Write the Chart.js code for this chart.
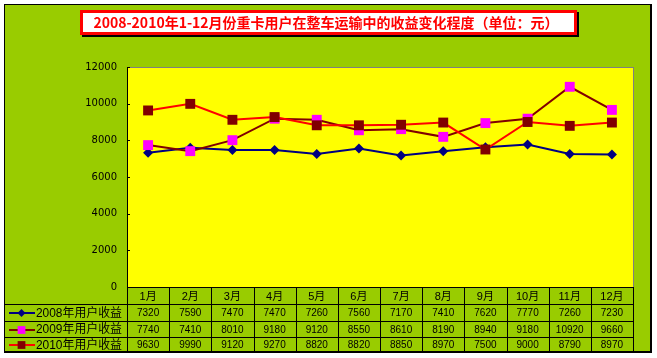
<!DOCTYPE html>
<html><head><meta charset="utf-8">
<script src="https://cdn.jsdelivr.net/npm/chart.js@4/dist/chart.umd.min.js"></script>
<style>html,body{margin:0;padding:0;background:#fff;}#wrap{width:657px;height:358px;position:relative;}</style>
</head><body><div id="wrap"><canvas id="c" width="657" height="358"></canvas></div>
<script>
const chartTitle = '2008-2010年1-12月份重卡用户在整车运输中的收益变化程度（单位：元）';
const months = ['1月','2月','3月','4月','5月','6月','7月','8月','9月','10月','11月','12月'];
const seriesNames = ['2008年用户收益','2009年用户收益','2010年用户收益'];
const income2008 = [7320,7590,7470,7470,7260,7560,7170,7410,7620,7770,7260,7230];
const income2009 = [7740,7410,8010,9180,9120,8550,8610,8190,8940,9180,10920,9660];
const income2010 = [9630,9990,9120,9270,8820,8820,8850,8970,7500,9000,8790,8970];
const yMin = 0, yMax = 12000, yStep = 2000;

const GREEN = '#99CC00', YELLOW = '#FFFF00';
const lineColors = ['#000080', '#800000', '#FF0000'];
const markerColors = ['#000080', '#FF00FF', '#800000'];
const markerStyles = ['rectRot', 'rect', 'rect'];
const markerRadius = [5, 7, 7];
const seriesData = [income2008, income2009, income2010];
const rowEdges = [287, 304, 321, 337, 352];

function drawMarker(ctx, style, r, x, y, color) {
  ctx.save();
  ctx.fillStyle = color;
  ctx.beginPath();
  if (style === 'rect') {
    const s = Math.SQRT1_2 * r;
    ctx.rect(x - s, y - s, 2 * s, 2 * s);
  } else {
    ctx.moveTo(x - r, y); ctx.lineTo(x, y - r); ctx.lineTo(x + r, y); ctx.lineTo(x, y + r); ctx.closePath();
  }
  ctx.fill();
  ctx.restore();
}

const framePlugin = {
  id: 'frame',
  beforeDraw(chart) {
    const ctx = chart.ctx, a = chart.chartArea;
    ctx.save();
    ctx.fillStyle = '#fff';
    ctx.fillRect(0, 0, chart.width, chart.height);
    ctx.fillStyle = GREEN;
    ctx.fillRect(4, 4, 648, 349);
    ctx.fillStyle = '#000';
    ctx.fillRect(4, 4, 648, 1);
    ctx.fillRect(4, 4, 1, 349);
    ctx.fillRect(650, 4, 2, 349);
    ctx.fillRect(4, 351, 648, 2);
    // title box
    ctx.fillStyle = '#000';
    ctx.fillRect(82, 12, 497, 25);
    ctx.fillStyle = '#FF0000';
    ctx.fillRect(80, 10, 497, 25);
    ctx.fillStyle = '#fff';
    ctx.fillRect(83, 13, 491, 19);
    ctx.fillStyle = '#FF0000';
    ctx.font = "bold 14px 'Noto Sans CJK SC', sans-serif";
    ctx.textAlign = 'center';
    ctx.textBaseline = 'middle';
    ctx.fillText(chartTitle, 326, 23, 478);
    // plot area
    ctx.fillStyle = YELLOW;
    ctx.fillRect(a.left, a.top, a.right - a.left, a.bottom - a.top);
    ctx.restore();
  },
  afterDraw(chart) {
    const ctx = chart.ctx, a = chart.chartArea;
    const xs = chart.scales.x, ys = chart.scales.y;
    ctx.save();
    // plot border top/right
    ctx.fillStyle = '#808080';
    ctx.fillRect(a.left, a.top, a.right - a.left + 1, 1);
    ctx.fillRect(a.right, a.top, 1, a.bottom - a.top);
    // inner y ticks
    ctx.fillStyle = '#000';
    for (let v = yMin; v <= yMax; v += yStep) {
      const py = Math.round(ys.getPixelForValue(v));
      ctx.fillRect(a.left, py, 3, 1);
    }
    // table
    const colW = (a.right - a.left) / months.length;
    ctx.fillStyle = '#000';
    ctx.fillRect(a.left, rowEdges[0], a.right - a.left + 1, 1);
    for (let r = 1; r < rowEdges.length; r++) ctx.fillRect(4, rowEdges[r], a.right - 3, 1);
    for (let i = 0; i <= months.length; i++) {
      const px = Math.round(a.left + i * colW);
      ctx.fillRect(px, rowEdges[0], 1, rowEdges[4] - rowEdges[0]);
    }
    ctx.textAlign = 'center';
    ctx.textBaseline = 'middle';
    ctx.fillStyle = '#000';
    ctx.font = "11px 'Liberation Sans', 'Noto Sans CJK SC', sans-serif";
    months.forEach((m, i) => {
      ctx.fillText(m, xs.getPixelForValue(i), (rowEdges[0] + rowEdges[1]) / 2 + 1);
    });
    ctx.font = "10px 'Liberation Sans', sans-serif";
    seriesData.forEach((arr, s) => {
      const cy = (rowEdges[s + 1] + rowEdges[s + 2]) / 2 + 1;
      arr.forEach((v, i) => ctx.fillText(String(v), xs.getPixelForValue(i), cy));
    });
    seriesNames.forEach((name, s) => {
      const cy = (rowEdges[s + 1] + rowEdges[s + 2]) / 2 + 0.5;
      ctx.fillStyle = lineColors[s];
      ctx.fillRect(9, Math.round(cy) - 1, 26, 2);
      drawMarker(ctx, markerStyles[s], s === 0 ? 4 : 5.5, 21.5, Math.round(cy), markerColors[s]);
      ctx.fillStyle = '#000';
      ctx.textAlign = 'left';
      ctx.font = "12px 'Liberation Sans', 'Noto Sans CJK SC', sans-serif";
      ctx.fillText(name, 36, cy + 0.5, 86);
    });
    ctx.restore();
  }
};

const datasets = seriesNames.map((name, s) => ({
  label: name,
  data: seriesData[s],
  borderColor: lineColors[s],
  borderWidth: 2,
  backgroundColor: markerColors[s],
  pointBackgroundColor: markerColors[s],
  pointBorderColor: markerColors[s],
  pointBorderWidth: 0,
  pointStyle: markerStyles[s],
  pointRadius: markerRadius[s],
  pointHoverRadius: markerRadius[s],
  tension: 0,
  fill: false,
  order: 3 - s
}));

new Chart(document.getElementById('c'), {
  type: 'line',
  data: { labels: months, datasets },
  options: {
    responsive: false,
    animation: false,
    devicePixelRatio: 1,
    events: [],
    layout: { padding: { top: 67, right: 24, bottom: 71, left: 0 } },
    plugins: { legend: { display: false }, tooltip: { enabled: false }, title: { display: false } },
    scales: {
      x: { type: 'category', offset: true, display: false },
      y: {
        min: yMin, max: yMax,
        afterFit(scale) { scale.width = 127; },
        grid: { display: false, drawTicks: false },
        border: { display: true, color: '#000', width: 1 },
        ticks: { stepSize: yStep, padding: 10, color: '#000', font: { family: 'DejaVu Sans', size: 10 },
                 callback: v => String(v) }
      }
    }
  },
  plugins: [framePlugin]
});
</script>
</body></html>
